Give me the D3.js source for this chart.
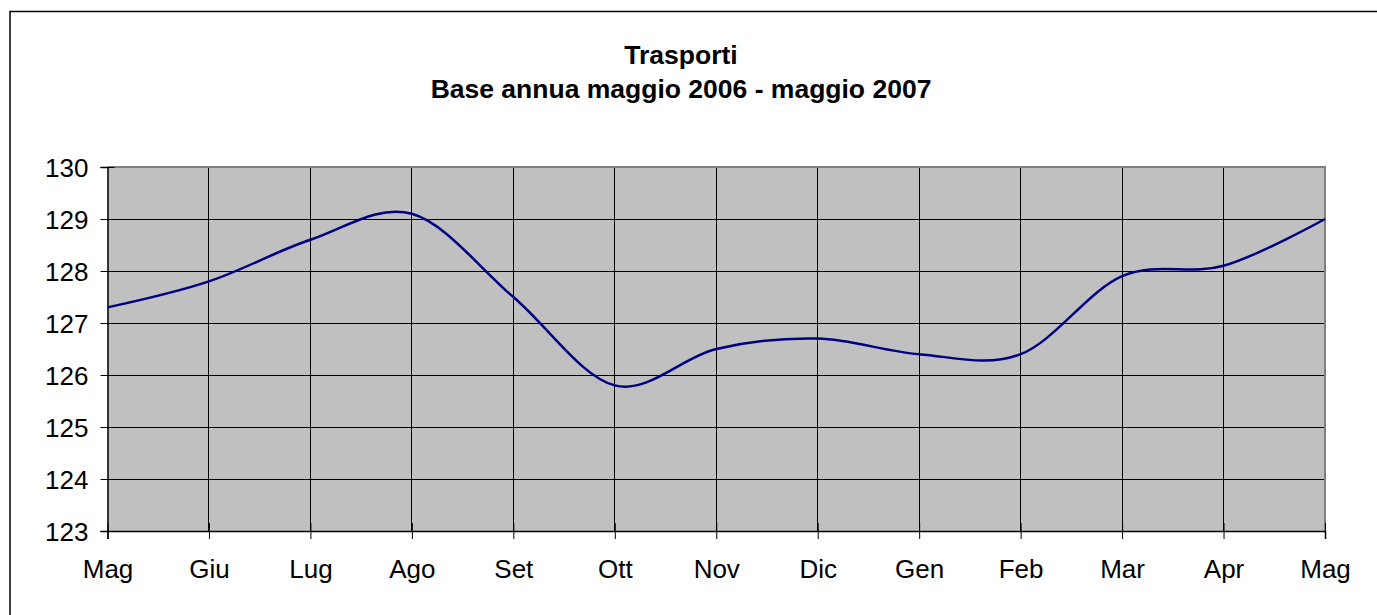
<!DOCTYPE html>
<html>
<head>
<meta charset="utf-8">
<script src="https://cdn.jsdelivr.net/npm/d3@7"></script>
<style>
  html, body { margin: 0; padding: 0; background: #fff; }
  svg { display: block; }
  text { font-family: "Liberation Sans", Arial, sans-serif; fill: #000; }
</style>
</head>
<body>
<svg id="chart" width="1377" height="615"></svg>
<script>
const titleLines = ["Trasporti", "Base annua maggio 2006 - maggio 2007"];
const months = ["Mag", "Giu", "Lug", "Ago", "Set", "Ott", "Nov", "Dic", "Gen", "Feb", "Mar", "Apr", "Mag"];
const values = [127.3, 127.8, 128.6, 129.1, 127.5, 125.8, 126.5, 126.7, 126.4, 126.4, 127.9, 128.1, 129.0];
const yTicks = [123, 124, 125, 126, 127, 128, 129, 130];

const svg = d3.select("#chart");
const W = 1377, H = 615;
const plot = { left: 107.5, right: 1325, top: 167, bottom: 531 };

// outer chart border (extends beyond the visible area on right/bottom)
svg.append("rect")
  .attr("x", 10).attr("y", 11.5)
  .attr("width", W + 20).attr("height", H + 20)
  .attr("fill", "#fff").attr("stroke", "#000").attr("stroke-width", 1.5);

const idx = months.map((d, i) => i);
const x = d3.scaleLinear().domain([0, months.length - 1]).range([plot.left, plot.right]);
const y = d3.scaleLinear().domain([123, 130]).range([plot.bottom, plot.top]);

// plot background
svg.append("rect")
  .attr("x", plot.left).attr("y", plot.top)
  .attr("width", plot.right - plot.left).attr("height", plot.bottom - plot.top)
  .attr("fill", "#C0C0C0");

// gridlines
const grid = svg.append("g").attr("stroke", "#000").attr("stroke-width", 1).attr("shape-rendering", "crispEdges");
grid.selectAll("line.h").data(yTicks.slice(1, -1)).enter().append("line")
  .attr("x1", plot.left).attr("x2", plot.right)
  .attr("y1", d => y(d)).attr("y2", d => y(d));
grid.selectAll("line.v").data(idx.slice(1, -1)).enter().append("line")
  .attr("y1", plot.top).attr("y2", plot.bottom)
  .attr("x1", d => x(d)).attr("x2", d => x(d));

// plot border top/right in gray
svg.append("path")
  .attr("d", `M${plot.left},${plot.top}H${plot.right}V${plot.bottom}`)
  .attr("fill", "none").attr("stroke", "#808080").attr("stroke-width", 2);

// Y axis (cross ticks)
const yAxis = d3.axisLeft(y).tickValues(yTicks).tickSize(7).tickPadding(12).tickFormat(d3.format("d"));
const gy = svg.append("g").attr("transform", `translate(${plot.left},0)`).call(yAxis);
gy.select(".domain").attr("stroke", "#000").attr("stroke-width", 1.5);
gy.selectAll(".tick line").attr("x1", 7).attr("x2", -7).attr("stroke", "#000");
gy.selectAll(".tick text").attr("font-size", 26).attr("font-family", "Liberation Sans, Arial, sans-serif").attr("fill", "#000").attr("dy", "0.35em").attr("x", -19);

// X axis (cross ticks)
const xAxis = d3.axisBottom(x).tickValues(idx).tickSize(8).tickPadding(0).tickFormat(i => months[i]);
const gx = svg.append("g").attr("transform", `translate(0,${plot.bottom})`).call(xAxis);
gx.select(".domain").attr("stroke", "#000").attr("stroke-width", 1.5);
gx.selectAll(".tick line").attr("y1", -8).attr("y2", 8).attr("stroke", "#000");
gx.selectAll(".tick text").attr("font-size", 26).attr("font-family", "Liberation Sans, Arial, sans-serif").attr("fill", "#000").attr("dy", null).attr("y", 47);

// series line
const line = d3.line().x((d, i) => x(i)).y(d => y(d)).curve(d3.curveCatmullRom.alpha(0));
svg.append("path").datum(values)
  .attr("d", line)
  .attr("fill", "none").attr("stroke", "#000080").attr("stroke-width", 2.5);

// title
svg.append("g").selectAll("text").data(titleLines).enter().append("text")
  .attr("x", 681).attr("y", (d, i) => 64 + i * 34)
  .attr("text-anchor", "middle").attr("font-weight", "bold").attr("font-size", 26.5)
  .text(d => d);
</script>
</body>
</html>
